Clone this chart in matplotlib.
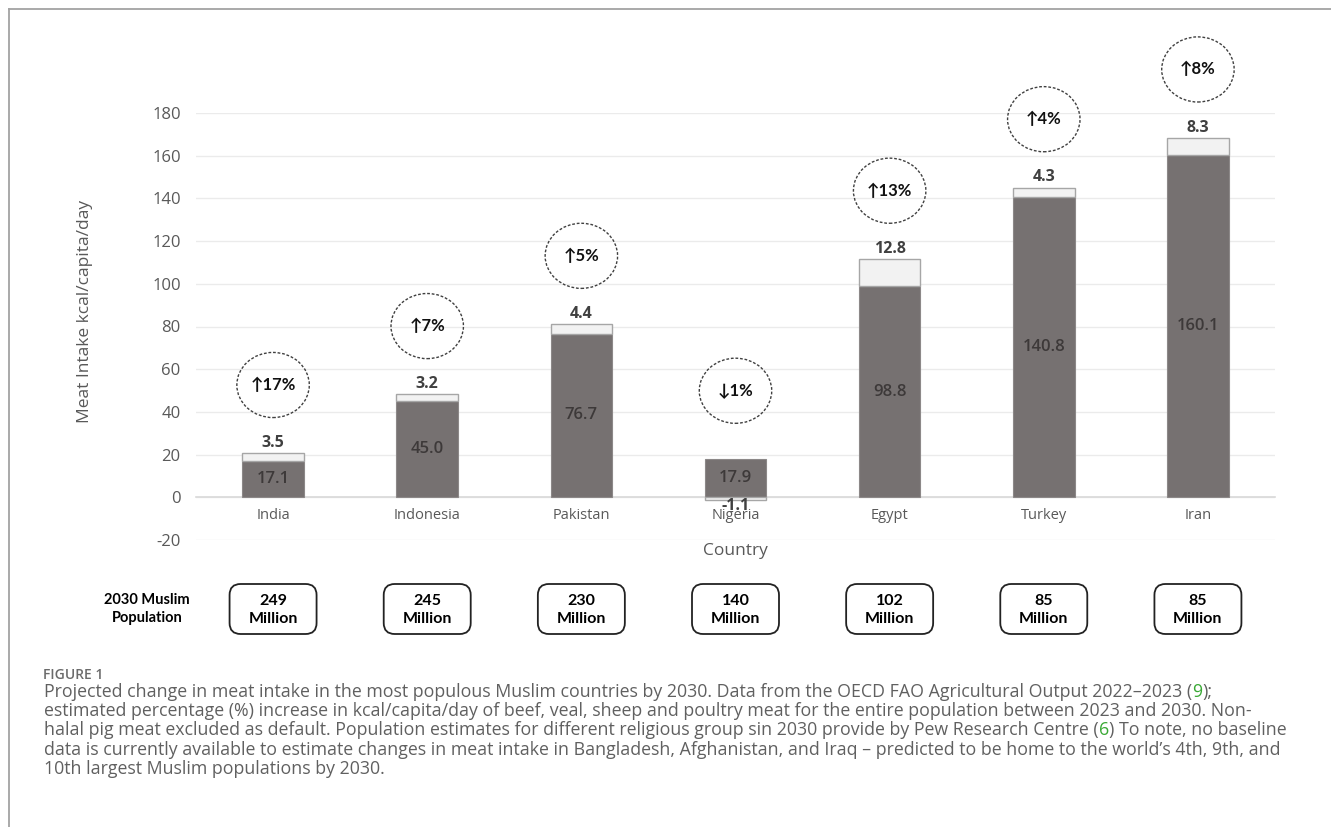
import matplotlib
matplotlib.use('Agg')
import matplotlib.pyplot as plt
from matplotlib.patches import Ellipse, FancyBboxPatch
from matplotlib.lines import Line2D

# ---------------- data ----------------
countries = ['India', 'Indonesia', 'Pakistan', 'Nigeria', 'Egypt', 'Turkey', 'Iran']
base_intake = [17.1, 45.0, 76.7, 17.9, 98.8, 140.8, 160.1]      # current kcal/capita/day
change_2030 = [3.5, 3.2, 4.4, -1.1, 12.8, 4.3, 8.3]              # projected change by 2030
pct_change = [17, 7, 5, -1, 13, 4, 8]                            # % change
population_2030 = [249, 245, 230, 140, 102, 85, 85]              # million Muslims in 2030
y_ticks = [-20, 0, 20, 40, 60, 80, 100, 120, 140, 160, 180]

caption_lines = [
    [("Projected change in meat intake in the most populous Muslim countries by 2030. Data from the OECD FAO Agricultural Output 2022\u20132023 (", 'g'),
     ("9", 'c'), (");", 'g')],
    [("estimated percentage (%) increase in kcal/capita/day of beef, veal, sheep and poultry meat for the entire population between 2023 and 2030. Non-", 'g')],
    [("halal pig meat excluded as default. Population estimates for different religious group sin 2030 provide by Pew Research Centre (", 'g'),
     ("6", 'c'), (") To note, no baseline", 'g')],
    [("data is currently available to estimate changes in meat intake in Bangladesh, Afghanistan, and Iraq \u2013 predicted to be home to the world\u2019s 4th, 9th, and", 'g')],
    [("10th largest Muslim populations by 2030.", 'g')],
]

# ---------------- styles ----------------
W, H = 1331, 827
DARK = '#767171'
LIGHT = '#f2f2f2'
LIGHT_EDGE = '#a6a6a6'
AXIS_TXT = '#595959'
SANS = ['Open Sans', 'DejaVu Sans']
LATO = ['Lato', 'DejaVu Sans']

fig = plt.figure(figsize=(W / 100, H / 100), dpi=100)
fig.patch.set_facecolor('white')

ax_l, ax_r, ax_t, ax_b = 196, 1275, 113, 540
ax = fig.add_axes([ax_l / W, (H - ax_b) / H, (ax_r - ax_l) / W, (ax_b - ax_t) / H])
ax.set_xlim(-0.5, len(countries) - 0.5)
ax.set_ylim(-20, 180)

x = list(range(len(countries)))
bw = 0.40

# base bars
ax.bar(x, base_intake, width=bw, color=DARK, edgecolor='#8c8888', linewidth=0.8, zorder=2)
# change segments
bottoms = [b if c >= 0 else 0 for b, c in zip(base_intake, change_2030)]
ax.bar(x, change_2030, bottom=bottoms, width=bw, color=LIGHT, edgecolor=LIGHT_EDGE,
       linewidth=1.0, zorder=2)

# labels
for i, (b, c) in enumerate(zip(base_intake, change_2030)):
    ax.text(i, b / 2, f"{b:.1f}", ha='center', va='center', fontsize=12,
            color='#3d3939', family=SANS, fontweight='semibold', zorder=3)
    if c >= 0:
        ax.annotate(f"{c:.1f}", xy=(i, b + c), xytext=(0, 1.5), textcoords='offset points',
                    ha='center', va='bottom', fontsize=11.5, fontweight='bold',
                    color='#404040', family=SANS, zorder=3)
    else:
        ax.annotate(f"{c:.1f}", xy=(i, c), xytext=(0, 1), textcoords='offset points',
                    ha='center', va='top', fontsize=11.5, fontweight='bold',
                    color='#404040', family=SANS, zorder=3)

# dashed ellipses with % change
for i, (b, c, p) in enumerate(zip(base_intake, change_2030, pct_change)):
    top = b + max(c, 0)
    cy = top + 32
    e = Ellipse((i, cy), width=0.47, height=30.5, fill=False, edgecolor='#404040',
                linewidth=1.0, linestyle=(0, (2.0, 1.3)), clip_on=False, zorder=4)
    ax.add_patch(e)
    arrow = '\u2191' if p >= 0 else '\u2193'
    ax.text(i, cy, f"{arrow}{abs(p)}%", ha='center', va='center', fontsize=12,
            fontweight='bold', color='#111111', family=['Lato', 'DejaVu Sans'],
            clip_on=False, zorder=5)

# axes styling
for s in ['top', 'right', 'left']:
    ax.spines[s].set_visible(False)
ax.spines['bottom'].set_position(('data', 0))
ax.spines['bottom'].set_color('#d9d9d9')
ax.spines['bottom'].set_linewidth(1.2)
ax.spines['bottom'].set_zorder(1)
ax.set_yticks(y_ticks)
ax.set_yticklabels([str(t) for t in y_ticks], fontsize=12, color=AXIS_TXT, family=SANS)
ax.set_xticks(x)
ax.set_xticklabels(countries, fontsize=10.5, color=AXIS_TXT, family=SANS)
ax.tick_params(axis='both', length=0)
ax.tick_params(axis='y', pad=11)
ax.tick_params(axis='x', pad=8)
ax.yaxis.grid(True, color='#ebebeb', linewidth=1.0)
ax.set_axisbelow(True)

fig.text(85 / W, 1 - 311 / H, "Meat Intake kcal/capita/day", rotation=90, ha='center',
         va='center', fontsize=12.5, color=AXIS_TXT, family=SANS)
fig.text((ax_l + ax_r) / 2 / W, 1 - 551 / H, "Country", ha='center', va='center',
         fontsize=12.5, color=AXIS_TXT, family=SANS)

# ---------------- overlay in pixel coordinates ----------------
ov = fig.add_axes([0, 0, 1, 1], zorder=10)
ov.set_xlim(0, W)
ov.set_ylim(H, 0)
ov.axis('off')
ov.patch.set_alpha(0)

# frame (top + left)
ov.add_line(Line2D([9, W], [9, 9], color='#a3a3a3', linewidth=1.3))
ov.add_line(Line2D([9, 9], [9, H], color='#a3a3a3', linewidth=1.3))

# population boxes
box_w, box_h, box_cy = 87, 50, 609
for i, pop in enumerate(population_2030):
    px = ax.transData.transform((i, 0))[0]
    box = FancyBboxPatch((px - box_w / 2, box_cy - box_h / 2), box_w, box_h,
                         boxstyle="round,pad=0,rounding_size=11", facecolor='white',
                         edgecolor='#222222', linewidth=1.3)
    ov.add_patch(box)
    ov.text(px, box_cy + 1, f"{pop}\nMillion", ha='center', va='center', fontsize=11.5,
            fontweight='bold', color='#000000', family=LATO, linespacing=1.35)

ov.text(147, 609, "2030 Muslim\nPopulation", ha='center', va='center', fontsize=10.5,
        fontweight='bold', color='#000000', family=LATO, linespacing=1.4)

# caption
ov.text(43, 675, "FIGURE 1", ha='left', va='center', fontsize=10, color='#6b6b6b',
        family=SANS, fontweight='semibold')

renderer = fig.canvas.get_renderer()
colors = {'g': '#606060', 'c': '#3aa935'}

# fit font size so the widest line spans ~1240 px
probe = ov.text(0, 0, ''.join(s for s, _ in caption_lines[2]), fontsize=11, family=SANS)
w11 = probe.get_window_extent(renderer).width
probe.remove()
cap_fs = 11 * 1240 / w11

y0, dy = 692, 19.2
for k, segs in enumerate(caption_lines):
    xx = 44
    yy = y0 + k * dy
    for s, c in segs:
        t = ov.text(xx, yy, s, ha='left', va='center', fontsize=cap_fs, color=colors[c],
                    family=SANS)
        xx += t.get_window_extent(renderer).width

fig.savefig('out.png', dpi=100, facecolor='white')
